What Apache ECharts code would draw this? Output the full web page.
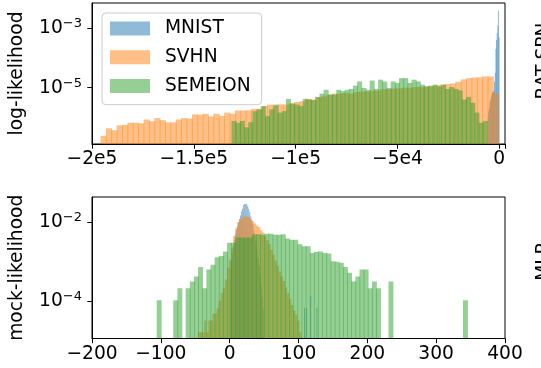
<!DOCTYPE html>
<html><head><meta charset="utf-8">
<script src="https://cdn.jsdelivr.net/npm/echarts@6/dist/echarts.min.js"></script>
<style>html,body{margin:0;padding:0;background:#fff}#c{width:541px;height:368px}</style>
</head><body><div id="c"></div>
<script>
// ---------- data (histogram densities) ----------
const seriesNames = ['MNIST', 'SVHN', 'SEMEION'];

// Top panel (log-likelihood): bins are start + i*width
const llMnistStart = -5760, llMnistWidth = 320;
const llMnist = [1.0e-6,1.6e-6,2.0e-6,3.2e-6,4.0e-6,5.0e-6,6.3e-6,7.1e-6,7.1e-6,7.9e-6,
  1.6e-5,3.2e-5,2.0e-4,4.0e-4,7.1e-4,1.26e-3,4.0e-3,5.0e-4];

const llSvhnStart = -195800, llSvhnWidth = 2640;
const llSvhn = [2.4e-7,4.3e-7,3.7e-7,5.4e-7,5.6e-7,6.6e-7,6.6e-7,6.3e-7,8.5e-7,7.4e-7,
  9.5e-7,8.1e-7,6.8e-7,6.8e-7,8.5e-7,9.5e-7,9.1e-7,1.26e-6,1.23e-6,1.32e-6,
  1.07e-6,1.32e-6,1.12e-6,1.45e-6,1.32e-6,1.7e-6,1.7e-6,1.74e-6,1.95e-6,1.95e-6,
  2.4e-6,2.7e-6,2.5e-6,2.75e-6,2.7e-6,2.95e-6,3.3e-6,3.5e-6,4.2e-6,4.0e-6,
  4.8e-6,5.1e-6,5.8e-6,6.3e-6,6.3e-6,6.6e-6,6.3e-6,7.1e-6,7.4e-6,7.4e-6,
  7.9e-6,7.9e-6,8.9e-6,8.9e-6,9.3e-6,9.5e-6,1.0e-5,1.0e-5,1.05e-5,1.05e-5,
  1.12e-5,1.1e-5,1.2e-5,1.26e-5,1.32e-5,1.38e-5,1.58e-5,1.9e-5,2.1e-5,2.2e-5,
  2.24e-5,2.4e-5,2.4e-5,6.3e-6];

const llSemeionStart = -131500, llSemeionWidth = 2057;
const llSemeion = [7.6e-7,6.6e-7,7.6e-7,4.6e-7,6.9e-7,1.62e-6,1.86e-6,2.4e-6,1.1e-6,1.86e-6,
  2.7e-6,1.45e-6,1.62e-6,4.2e-6,2.95e-6,2.7e-6,2.4e-6,4.2e-6,4.0e-6,3.8e-6,
  4.9e-6,6.3e-6,8.5e-6,5.9e-6,5.9e-6,8.5e-6,7.6e-6,8.5e-6,9.1e-6,1.17e-5,
  1.62e-5,9.8e-6,8.5e-6,1.74e-5,9.1e-6,1.86e-5,1.62e-5,9.8e-6,1.62e-5,1.45e-5,
  2.1e-5,2.1e-5,1.45e-5,1.86e-5,1.62e-5,1.26e-5,1.1e-5,1.17e-5,1.26e-5,1.1e-5,
  1.26e-5,9.1e-6,1.05e-5,9.1e-6,8.1e-6,4.0e-6,4.9e-6,3.1e-6,1.45e-6,6.6e-7,
  7.6e-7];

// Bottom panel (mock-likelihood)
const mlMnistStart = 0, mlMnistWidth = 1.5;
const mlMnist = [6.3e-4,1.0e-3,1.6e-3,2.5e-3,3.5e-3,5.0e-3,6.3e-3,7.9e-3,1.0e-2,1.2e-2,
  1.5e-2,1.9e-2,2.2e-2,2.75e-2,2.95e-2,2.95e-2,2.9e-2,2.6e-2,2.2e-2,1.8e-2,
  1.4e-2,1.12e-2,8.9e-3,6.3e-3,4.5e-3,3.2e-3,2.0e-3,1.26e-3,7.9e-4,5.0e-4,
  2.5e-4,1.26e-4,6.3e-5];
const mlMnistOutlierStarts = [108, 111, 117, 126];
const mlMnistOutliers = [6.7e-5, 6.7e-5, 1.33e-4, 6.7e-5];

const mlSvhnStart = -46, mlSvhnWidth = 3;
const mlSvhn = [1.6e-5,1.6e-5,1.6e-5,3.2e-5,1.6e-5,3.2e-5,3.2e-5,4.8e-5,4.8e-5,6.4e-5,
  1.0e-4,1.6e-4,2.2e-4,3.5e-4,7.1e-4,1.12e-3,2.2e-3,4.5e-3,7.1e-3,1.0e-2,
  1.2e-2,1.32e-2,1.41e-2,1.41e-2,1.35e-2,1.2e-2,1.07e-2,9.3e-3,8.3e-3,7.6e-3,
  6.3e-3,5.4e-3,4.5e-3,3.5e-3,2.8e-3,2.0e-3,1.5e-3,1.07e-3,7.9e-4,5.6e-4,
  4.2e-4,3.2e-4,2.2e-4,1.6e-4,1.12e-4,7.9e-5,5.6e-5,4.5e-5,3.2e-5,1.6e-5];

const mlSemeionStart = -106, mlSemeionWidth = 6.013;
const mlSemeion = [1.04e-4,null,null,null,1.04e-4,2.09e-4,null,2.09e-4,3.13e-4,4.17e-4,
  7.3e-4,2.09e-4,6.3e-4,8.3e-4,1.3e-3,1.4e-3,1.8e-3,3.0e-3,3.0e-3,4.1e-3,
  4.1e-3,4.1e-3,4.1e-3,5.0e-3,5.0e-3,4.8e-3,5.1e-3,5.1e-3,4.8e-3,4.8e-3,
  5.0e-3,3.9e-3,3.6e-3,3.6e-3,2.75e-3,2.45e-3,2.45e-3,1.66e-3,1.78e-3,1.8e-3,
  1.66e-3,1.6e-3,1.02e-3,1.0e-3,9.4e-4,7.3e-4,5.2e-4,3.13e-4,4.17e-4,6.3e-4,
  6.3e-4,2.09e-4,3.13e-4,2.09e-4,null,null,3.13e-4,null,null,null,
  null,null,null,null,null,null,null,null,null,null,
  null,null,null,null,1.04e-4];

// tick labels
const topXTicks = [-200000, -150000, -100000, -50000, 0];
const topXLabels = ['\u22122e5', '\u22121.5e5', '\u22121e5', '\u22125e4', '0'];
const topYTicks = [1e-5, 1e-3];
const botYTicks = [1e-4, 1e-2];

// ---------- build ----------
const FONT = 'DejaVu Sans';
const FS = 18.67;
const colors = ['rgba(31,119,180,0.5)', 'rgba(255,127,14,0.5)', 'rgba(44,160,44,0.5)'];

function bins(start, width, vals) {
  const out = [];
  vals.forEach((v, i) => { if (v != null) out.push([start + i * width, start + (i + 1) * width, v]); });
  return out;
}
function binsAt(starts, width, vals) {
  return starts.map((s, i) => [s, s + width, vals[i]]);
}
function makeRender(overlap) {
  return function (params, api) {
    const y = api.value(2);
    const p0 = api.coord([api.value(0), y]);
    const p1 = api.coord([api.value(1), y]);
    const cs = params.coordSys;
    const bottom = cs.y + cs.height;
    return {
      type: 'rect',
      shape: { x: p0[0], y: p0[1], width: p1[0] - p0[0] + overlap, height: bottom - p0[1] },
      style: { fill: api.visual('color') }
    };
  };
}
function hist(name, idx, grid, data, overlap) {
  return {
    type: 'custom', name: name, xAxisIndex: grid, yAxisIndex: grid,
    renderItem: makeRender(overlap), clip: true,
    itemStyle: { color: colors[idx] },
    encode: { x: [0, 1], y: 2 },
    data: data, z: 2 + idx
  };
}
function supLabel(v) {
  const e = Math.round(Math.log10(v));
  return '{b|10}{s|' + (e < 0 ? '\u2212' : '') + Math.abs(e) + '}';
}
const labelRich = {
  b: { fontSize: FS, fontFamily: FONT, color: '#000', lineHeight: 22 },
  s: { fontSize: 13, fontFamily: FONT, color: '#000', lineHeight: 10, verticalAlign: 'top' }
};
function yAxis(grid, min, max, ticks, name) {
  return {
    gridIndex: grid, type: 'log', logBase: 10, min: min, max: max,
    name: name, nameLocation: 'middle', nameGap: 65,
    nameTextStyle: { fontSize: FS, fontFamily: FONT, color: '#000' },
    axisLine: { show: true, onZero: false, lineStyle: { color: '#000', width: 1 } },
    axisTick: { show: true, length: 4.7, customValues: ticks, lineStyle: { color: '#000', width: 1 } },
    axisLabel: {
      margin: 10, customValues: ticks, rich: labelRich,
      formatter: function (v) {
        const e = Math.round(Math.log10(v));
        return ticks.some(t => Math.abs(Math.log10(t) - e) < 1e-6) ? supLabel(v) : '';
      }
    },
    splitLine: { show: false }, minorTick: { show: false }, z: 5
  };
}
const xAxisCommon = {
  type: 'value',
  axisLine: { show: true, onZero: false, lineStyle: { color: '#000', width: 1 } },
  axisTick: { show: true, length: 4.7, lineStyle: { color: '#000', width: 1 } },
  splitLine: { show: false }, z: 5
};

const option = {
  animation: false,
  backgroundColor: '#fff',
  grid: [
    { left: 92, top: 3, width: 413, height: 141, show: true, borderColor: '#000', borderWidth: 1 },
    { left: 92, top: 197, width: 413, height: 141.5, show: true, borderColor: '#000', borderWidth: 1 }
  ],
  legend: {
    data: seriesNames, orient: 'vertical', left: 102, top: 13,
    icon: 'rect', itemWidth: 40, itemHeight: 14, itemGap: 8.7,
    padding: [5.5, 11, 8.8, 8],
    backgroundColor: 'rgba(255,255,255,0.8)', borderColor: '#cccccc', borderWidth: 1, borderRadius: 4,
    textStyle: { fontSize: FS, fontFamily: FONT, color: '#000', lineHeight: 20, padding: [0, 0, 0, 10] },
    selectedMode: false
  },
  xAxis: [
    Object.assign({}, xAxisCommon, {
      gridIndex: 0, min: -200000, max: 2800, interval: 50000,
      axisLabel: {
        fontSize: FS, fontFamily: FONT, color: '#000', margin: 6,
        formatter: function (v) { const i = topXTicks.indexOf(v); return i >= 0 ? topXLabels[i] : ''; }
      }
    }),
    Object.assign({}, xAxisCommon, {
      gridIndex: 1, min: -200, max: 400, interval: 100,
      axisLabel: {
        fontSize: FS, fontFamily: FONT, color: '#000', margin: 6,
        formatter: function (v) { return v < 0 ? '\u2212' + (-v) : String(v); }
      }
    })
  ],
  yAxis: [
    yAxis(0, 1.27e-7, 7.1e-3, topYTicks, 'log-likelihood'),
    yAxis(1, 1.11e-5, 0.044, botYTicks, 'mock-likelihood')
  ],
  graphic: [
    { type: 'text', x: 535, y: 61, rotation: Math.PI / 2,
      style: { text: 'RAT-SPN', font: FS + 'px "DejaVu Sans"', fill: '#000', align: 'center', verticalAlign: 'top', textAlign: 'center', textVerticalAlign: 'top' } },
    { type: 'text', x: 535, y: 262, rotation: Math.PI / 2,
      style: { text: 'MLP', font: FS + 'px "DejaVu Sans"', fill: '#000', align: 'center', verticalAlign: 'top', textAlign: 'center', textVerticalAlign: 'top' } }
  ],
  series: [
    hist('MNIST', 0, 0, bins(llMnistStart, llMnistWidth, llMnist), 0.3),
    hist('SVHN', 1, 0, bins(llSvhnStart, llSvhnWidth, llSvhn), 0.8),
    hist('SEMEION', 2, 0, bins(llSemeionStart, llSemeionWidth, llSemeion), 0.8),
    hist('MNIST', 0, 1, bins(mlMnistStart, mlMnistWidth, mlMnist).concat(binsAt(mlMnistOutlierStarts, mlMnistWidth, mlMnistOutliers)), 0),
    hist('SVHN', 1, 1, bins(mlSvhnStart, mlSvhnWidth, mlSvhn), 0.4),
    hist('SEMEION', 2, 1, bins(mlSemeionStart, mlSemeionWidth, mlSemeion), 0.8)
  ]
};
const chart = echarts.init(document.getElementById('c'), null, { renderer: 'canvas' });
chart.setOption(option);
</script>
</body></html>
